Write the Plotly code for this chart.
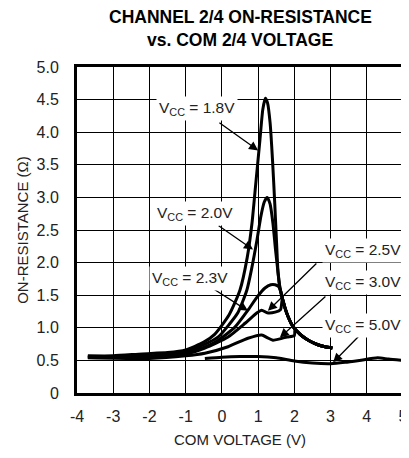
import plotly.graph_objects as go

# ---- data ----
tail_x = [1.55, 1.60, 1.67, 1.74, 1.82, 1.92, 2.02, 2.16, 2.30, 2.45, 2.65, 2.85, 3.05]
tail_y = [1.85, 1.62, 1.45, 1.31, 1.18, 1.06, 0.98, 0.90, 0.84, 0.79, 0.74, 0.71, 0.69]

v18_x = [-3.7, -3.0, -2.2, -1.5, -1.0, -0.5, -0.2, 0.2, 0.5, 0.7, 0.83, 0.92, 1.05, 1.13, 1.2, 1.26, 1.33, 1.4, 1.46, 1.51]
v18_y = [0.57, 0.57, 0.60, 0.62, 0.66, 0.78, 0.90, 1.20, 1.58, 2.08, 2.60, 3.12, 3.88, 4.35, 4.52, 4.45, 4.15, 3.55, 2.90, 2.30]

v20_x = [-3.7, -3.0, -2.0, -1.0, -0.5, -0.1, 0.2, 0.44, 0.69, 0.83, 0.97, 1.08, 1.17, 1.25, 1.33, 1.41, 1.48]
v20_y = [0.56, 0.56, 0.57, 0.64, 0.74, 0.86, 1.05, 1.23, 1.58, 1.93, 2.35, 2.72, 2.93, 3.00, 2.90, 2.60, 2.20]

v23_x = [-3.7, -2.0, -1.0, -0.5, -0.1, 0.36, 0.72, 0.97, 1.19, 1.35, 1.47, 1.57, 1.63]
v23_y = [0.55, 0.56, 0.62, 0.70, 0.81, 1.01, 1.27, 1.47, 1.61, 1.66, 1.66, 1.63, 1.55]

v25_x = [-3.7, -2.0, -1.0, -0.47, 0.17, 0.64, 0.97, 1.10, 1.25, 1.47, 1.62]
v25_y = [0.55, 0.55, 0.60, 0.69, 0.86, 1.07, 1.23, 1.27, 1.23, 1.24, 1.28]

v30_x = [-3.7, -2.0, -1.0, -0.47, 0.17, 0.72, 1.10, 1.25, 1.41, 1.60, 1.80, 2.00]
v30_y = [0.54, 0.53, 0.57, 0.61, 0.71, 0.84, 0.89, 0.85, 0.81, 0.83, 0.86, 0.88]

v50_x = [-0.47, 0.0, 0.5, 1.0, 1.5, 2.0, 2.5, 3.0, 3.4, 3.8, 4.3, 4.6, 5.0]
v50_y = [0.53, 0.55, 0.56, 0.56, 0.54, 0.49, 0.46, 0.45, 0.47, 0.50, 0.54, 0.52, 0.50]

x_ticks = [-4, -3, -2, -1, 0, 1, 2, 3, 4, 5]
x_tick_text = ["-4", "-3", "-2", "-1", "0", "1", "2", "3", "4", "5"]
y_ticks = [0, 0.5, 1.0, 1.5, 2.0, 2.5, 3.0, 3.5, 4.0, 4.5, 5.0]
y_tick_text = ["0", "0.5", "1.0", "1.5", "2.0", "2.5", "3.0", "3.5", "4.0", "4.5", "5.0"]

labels = ["1.8V", "2.0V", "2.3V", "2.5V", "3.0V", "5.0V"]

FONT = "Liberation Sans Narrow, Liberation Sans, Arial, sans-serif"
TFONT = "Liberation Sans Narrow, Liberation Sans, Arial, sans-serif"
TXT = "#222222"

fig = go.Figure()


def joined(xs, ys):
    last = xs[-1]
    nx = list(xs) + [t for t in tail_x if t > last]
    ny = list(ys) + [tail_y[i] for i, t in enumerate(tail_x) if t > last]
    return nx, ny


line_style = dict(color="black", width=3, shape="spline", smoothing=0.6)
for xs, ys in [(v18_x, v18_y), (v20_x, v20_y), (v23_x, v23_y), (v25_x, v25_y), (v30_x, v30_y)]:
    nx, ny = joined(xs, ys)
    fig.add_trace(go.Scatter(x=nx, y=ny, mode="lines", line=line_style,
                             showlegend=False, hoverinfo="skip"))
fig.add_trace(go.Scatter(x=v50_x, y=v50_y, mode="lines", line=line_style,
                         showlegend=False, hoverinfo="skip"))

# label text positions, arrow tails, arrow heads (data coords)
text_pos = [(-0.69, 4.37), (-0.74, 2.76), (-0.88, 1.76), (3.9, 2.19), (3.9, 1.69), (3.9, 1.04)]
arrow_tail = [(-0.11, 4.16), (-0.13, 2.58), (-0.27, 1.61), (2.65, 2.01), (2.9, 1.50), (3.9, 0.94)]
arrow_head = [(1.0, 3.72), (0.86, 2.20), (0.72, 1.26), (1.27, 1.26), (1.6, 0.85), (3.07, 0.47)]

for lab, (tx, ty), (ax, ay), (hx, hy) in zip(labels, text_pos, arrow_tail, arrow_head):
    fig.add_annotation(x=hx, y=hy, ax=ax, ay=ay, axref="x", ayref="y", xref="x", yref="y",
                       text="", showarrow=True, arrowhead=2, arrowsize=1.4, arrowwidth=1.3,
                       arrowcolor="black")
    fig.add_annotation(x=tx, y=ty, xref="x", yref="y", showarrow=False,
                       text="V<sub>CC</sub> = " + lab, bgcolor="white", borderpad=2,
                       font=dict(family=FONT, size=15.5, color=TXT))

# two-line bold title placed as paper-referenced annotations above the plot
title_lines = ["CHANNEL 2/4 ON-RESISTANCE", "vs. COM 2/4 VOLTAGE"]
for i, t in enumerate(title_lines):
    fig.add_annotation(xref="paper", yref="paper", x=0.5, y=1 + (50 - 23 * i) / 326.0,
                       xanchor="center", yanchor="middle", showarrow=False,
                       text="<b>" + t + "</b>",
                       font=dict(family=TFONT, size=17.5, color="black"))

# page body has an 8px margin, so the figure is sized/offset to compensate
fig.update_layout(
    width=401, height=450,
    margin=dict(l=69, r=6, t=59, b=65, autoexpand=False),
    paper_bgcolor="white", plot_bgcolor="white",
    font=dict(family=FONT, color=TXT),
)
fig.update_xaxes(range=[-4, 5], tickvals=x_ticks, ticktext=x_tick_text, showgrid=True,
                 gridcolor="black", gridwidth=1, automargin=False,
                 showline=True, linecolor="black", linewidth=3, mirror=True, zeroline=False,
                 ticks="", ticklabelstandoff=7, tickfont=dict(family=FONT, size=16, color=TXT),
                 title=dict(text="COM VOLTAGE (V)", font=dict(family=FONT, size=15, color=TXT), standoff=11))
fig.update_yaxes(range=[0, 5], tickvals=y_ticks, ticktext=y_tick_text, showgrid=True, gridcolor="black",
                 gridwidth=1, showline=True, linecolor="black", linewidth=3, mirror=True, zeroline=False,
                 automargin=False,
                 ticks="", ticklabelstandoff=12, tickfont=dict(family=FONT, size=16, color=TXT),
                 title=dict(text="ON-RESISTANCE (Ω)", font=dict(family=FONT, size=15, color=TXT), standoff=5))

fig.write_html("out.html")
